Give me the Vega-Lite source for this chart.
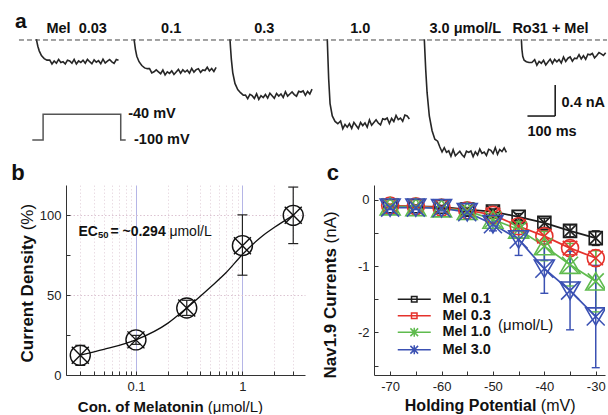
{
  "$schema": "https://vega.github.io/schema/vega-lite/v6.json",
  "padding": {"left": 11, "top": 0, "right": 0, "bottom": 0},
  "spacing": -2,
  "config": {
    "view": {"stroke": null},
    "font": "Liberation Sans",
    "axis": {"labelFont": "Liberation Sans", "titleFont": "Liberation Sans", "domainColor": "#333", "tickColor": "#333", "labelColor": "#222", "titleColor": "#111"},
    "legend": {"labelFont": "Liberation Sans", "titleFont": "Liberation Sans"},
    "title": {"font": "Liberation Sans"}
  },
  "datasets": {
    "traces": [
      {"tr":1,"t":135,"I":0.01},{"tr":1,"t":137,"I":-0.03},{"tr":1,"t":140,"I":-0.08},{"tr":1,"t":145,"I":-0.14},{"tr":1,"t":153,"I":-0.2},{"tr":1,"t":163,"I":-0.24},{"tr":1,"t":173,"I":-0.26},
      {"tr":1,"t":183,"I":-0.26},{"tr":1,"t":191,"I":-0.31},{"tr":1,"t":199,"I":-0.27},{"tr":1,"t":207,"I":-0.3},{"tr":1,"t":215,"I":-0.25},{"tr":1,"t":223,"I":-0.29},{"tr":1,"t":231,"I":-0.28},{"tr":1,"t":239,"I":-0.31},{"tr":1,"t":247,"I":-0.26},{"tr":1,"t":255,"I":-0.27},{"tr":1,"t":263,"I":-0.3},{"tr":1,"t":271,"I":-0.25},{"tr":1,"t":279,"I":-0.31},{"tr":1,"t":287,"I":-0.27},{"tr":1,"t":295,"I":-0.29},{"tr":1,"t":303,"I":-0.26},{"tr":1,"t":311,"I":-0.3},{"tr":1,"t":319,"I":-0.25},{"tr":1,"t":327,"I":-0.28},{"tr":1,"t":335,"I":-0.307},{"tr":1,"t":343,"I":-0.257},{"tr":1,"t":351,"I":-0.287},{"tr":1,"t":359,"I":-0.267},{"tr":1,"t":367,"I":-0.307},{"tr":1,"t":375,"I":-0.247},{"tr":1,"t":383,"I":-0.297},{"tr":1,"t":391,"I":-0.272},{"tr":1,"t":399,"I":-0.252},{"tr":1,"t":407,"I":-0.282},{"tr":1,"t":415,"I":-0.302},{"tr":1,"t":423,"I":-0.252},{"tr":1,"t":431,"I":-0.262},
      {"tr":2,"t":487,"I":0.01},{"tr":2,"t":489,"I":-0.04},{"tr":2,"t":492,"I":-0.12},{"tr":2,"t":497,"I":-0.21},{"tr":2,"t":505,"I":-0.28},{"tr":2,"t":515,"I":-0.33},{"tr":2,"t":525,"I":-0.36},
      {"tr":2,"t":535,"I":-0.37},{"tr":2,"t":543,"I":-0.37},{"tr":2,"t":551,"I":-0.425},{"tr":2,"t":559,"I":-0.41},{"tr":2,"t":567,"I":-0.385},{"tr":2,"t":575,"I":-0.41},{"tr":2,"t":583,"I":-0.435},{"tr":2,"t":591,"I":-0.388},{"tr":2,"t":599,"I":-0.45},{"tr":2,"t":607,"I":-0.41},{"tr":2,"t":615,"I":-0.43},{"tr":2,"t":623,"I":-0.398},{"tr":2,"t":631,"I":-0.445},{"tr":2,"t":639,"I":-0.413},{"tr":2,"t":647,"I":-0.38},{"tr":2,"t":655,"I":-0.428},{"tr":2,"t":663,"I":-0.385},{"tr":2,"t":671,"I":-0.413},{"tr":2,"t":679,"I":-0.39},{"tr":2,"t":687,"I":-0.428},{"tr":2,"t":695,"I":-0.366},{"tr":2,"t":703,"I":-0.414},{"tr":2,"t":711,"I":-0.382},{"tr":2,"t":719,"I":-0.37},{"tr":2,"t":727,"I":-0.418},{"tr":2,"t":735,"I":-0.386},{"tr":2,"t":743,"I":-0.394},{"tr":2,"t":751,"I":-0.352},{"tr":2,"t":759,"I":-0.4},{"tr":2,"t":767,"I":-0.368},{"tr":2,"t":775,"I":-0.406},{"tr":2,"t":783,"I":-0.354},
      {"tr":3,"t":833,"I":0.01},{"tr":3,"t":835,"I":-0.1},{"tr":3,"t":838,"I":-0.25},{"tr":3,"t":843,"I":-0.42},{"tr":3,"t":851,"I":-0.56},{"tr":3,"t":861,"I":-0.64},{"tr":3,"t":871,"I":-0.68},
      {"tr":3,"t":881,"I":-0.712},{"tr":3,"t":889,"I":-0.71},{"tr":3,"t":897,"I":-0.756},{"tr":3,"t":905,"I":-0.701},{"tr":3,"t":913,"I":-0.718},{"tr":3,"t":921,"I":-0.754},{"tr":3,"t":929,"I":-0.694},{"tr":3,"t":937,"I":-0.766},{"tr":3,"t":945,"I":-0.718},{"tr":3,"t":953,"I":-0.742},{"tr":3,"t":961,"I":-0.703},{"tr":3,"t":969,"I":-0.749},{"tr":3,"t":977,"I":-0.686},{"tr":3,"t":985,"I":-0.719},{"tr":3,"t":993,"I":-0.752},{"tr":3,"t":1001,"I":-0.69},{"tr":3,"t":1009,"I":-0.723},{"tr":3,"t":1017,"I":-0.696},{"tr":3,"t":1025,"I":-0.741},{"tr":3,"t":1033,"I":-0.667},{"tr":3,"t":1041,"I":-0.724},{"tr":3,"t":1049,"I":-0.697},{"tr":3,"t":1057,"I":-0.671},{"tr":3,"t":1065,"I":-0.704},{"tr":3,"t":1073,"I":-0.725},{"tr":3,"t":1081,"I":-0.662},{"tr":3,"t":1089,"I":-0.672},{"tr":3,"t":1097,"I":-0.657},{"tr":3,"t":1105,"I":-0.714},{"tr":3,"t":1113,"I":-0.664},{"tr":3,"t":1121,"I":-0.697},{"tr":3,"t":1129,"I":-0.634},
      {"tr":4,"t":1184,"I":0.01},{"tr":4,"t":1186,"I":-0.2},{"tr":4,"t":1189,"I":-0.5},{"tr":4,"t":1194,"I":-0.82},{"tr":4,"t":1202,"I":-0.98},{"tr":4,"t":1212,"I":-1.05},{"tr":4,"t":1222,"I":-1.08},
      {"tr":4,"t":1232,"I":-1.045},{"tr":4,"t":1240,"I":-1.145},{"tr":4,"t":1248,"I":-1.09},{"tr":4,"t":1256,"I":-1.125},{"tr":4,"t":1264,"I":-1.08},{"tr":4,"t":1272,"I":-1.14},{"tr":4,"t":1280,"I":-1.063},{"tr":4,"t":1288,"I":-1.103},{"tr":4,"t":1296,"I":-1.143},{"tr":4,"t":1304,"I":-1.064},{"tr":4,"t":1312,"I":-1.104},{"tr":4,"t":1320,"I":-1.069},{"tr":4,"t":1328,"I":-1.124},{"tr":4,"t":1336,"I":-1.03},{"tr":4,"t":1344,"I":-1.1},{"tr":4,"t":1352,"I":-1.065},{"tr":4,"t":1360,"I":-1.03},{"tr":4,"t":1368,"I":-1.071},{"tr":4,"t":1376,"I":-1.096},{"tr":4,"t":1384,"I":-1.016},{"tr":4,"t":1392,"I":-1.026},{"tr":4,"t":1400,"I":-1.007},{"tr":4,"t":1408,"I":-1.077},{"tr":4,"t":1416,"I":-1.012},{"tr":4,"t":1424,"I":-1.052},{"tr":4,"t":1432,"I":-0.973},{"tr":4,"t":1440,"I":-1.028},{"tr":4,"t":1448,"I":-1.008},{"tr":4,"t":1456,"I":-1.048},{"tr":4,"t":1464,"I":-0.969},{"tr":4,"t":1472,"I":-0.979},{"tr":4,"t":1480,"I":-1.02},
      {"tr":5,"t":1534,"I":0.01},{"tr":5,"t":1536,"I":-0.15},{"tr":5,"t":1539,"I":-0.38},{"tr":5,"t":1544,"I":-0.68},{"tr":5,"t":1552,"I":-0.98},{"tr":5,"t":1562,"I":-1.17},{"tr":5,"t":1572,"I":-1.28},
      {"tr":5,"t":1582,"I":-1.305},{"tr":5,"t":1590,"I":-1.38},{"tr":5,"t":1598,"I":-1.445},{"tr":5,"t":1606,"I":-1.39},{"tr":5,"t":1614,"I":-1.45},{"tr":5,"t":1622,"I":-1.43},{"tr":5,"t":1630,"I":-1.5},{"tr":5,"t":1638,"I":-1.415},{"tr":5,"t":1646,"I":-1.495},{"tr":5,"t":1654,"I":-1.465},{"tr":5,"t":1662,"I":-1.435},{"tr":5,"t":1670,"I":-1.48},{"tr":5,"t":1678,"I":-1.51},{"tr":5,"t":1686,"I":-1.435},{"tr":5,"t":1694,"I":-1.45},{"tr":5,"t":1702,"I":-1.432},{"tr":5,"t":1710,"I":-1.505},{"tr":5,"t":1718,"I":-1.442},{"tr":5,"t":1726,"I":-1.484},{"tr":5,"t":1734,"I":-1.407},{"tr":5,"t":1742,"I":-1.464},{"tr":5,"t":1750,"I":-1.446},{"tr":5,"t":1758,"I":-1.489},{"tr":5,"t":1766,"I":-1.411},{"tr":5,"t":1774,"I":-1.424},{"tr":5,"t":1782,"I":-1.466},{"tr":5,"t":1790,"I":-1.388},{"tr":5,"t":1798,"I":-1.476},{"tr":5,"t":1806,"I":-1.413},{"tr":5,"t":1814,"I":-1.44},{"tr":5,"t":1822,"I":-1.393},{"tr":5,"t":1830,"I":-1.45},
      {"tr":6,"t":1884,"I":0.01},{"tr":6,"t":1886,"I":-0.12},{"tr":6,"t":1889,"I":-0.21},{"tr":6,"t":1894,"I":-0.26},{"tr":6,"t":1902,"I":-0.28},{"tr":6,"t":1912,"I":-0.29},{"tr":6,"t":1922,"I":-0.29},
      {"tr":6,"t":1932,"I":-0.254},{"tr":6,"t":1940,"I":-0.326},{"tr":6,"t":1948,"I":-0.277},{"tr":6,"t":1956,"I":-0.3},{"tr":6,"t":1964,"I":-0.263},{"tr":6,"t":1972,"I":-0.322},{"tr":6,"t":1980,"I":-0.285},{"tr":6,"t":1988,"I":-0.247},{"tr":6,"t":1996,"I":-0.303},{"tr":6,"t":2004,"I":-0.25},{"tr":6,"t":2012,"I":-0.282},{"tr":6,"t":2020,"I":-0.253},{"tr":6,"t":2028,"I":-0.297},{"tr":6,"t":2036,"I":-0.22},{"tr":6,"t":2044,"I":-0.276},{"tr":6,"t":2052,"I":-0.235},{"tr":6,"t":2060,"I":-0.219},{"tr":6,"t":2068,"I":-0.274},{"tr":6,"t":2076,"I":-0.234},{"tr":6,"t":2084,"I":-0.241},{"tr":6,"t":2092,"I":-0.189},{"tr":6,"t":2100,"I":-0.245},{"tr":6,"t":2108,"I":-0.204},{"tr":6,"t":2116,"I":-0.248},{"tr":6,"t":2124,"I":-0.183},{"tr":6,"t":2132,"I":-0.191},{"tr":6,"t":2140,"I":-0.174},{"tr":6,"t":2148,"I":-0.23},{"tr":6,"t":2156,"I":-0.201},{"tr":6,"t":2164,"I":-0.161},{"tr":6,"t":2172,"I":-0.18},{"tr":6,"t":2180,"I":-0.2},{"tr":6,"t":2188,"I":-0.165}
    ],
    "proto": [
      {"i":0,"t":120,"mV":-100},{"i":1,"t":159,"mV":-100},{"i":2,"t":159,"mV":-40},{"i":3,"t":439,"mV":-40},{"i":4,"t":439,"mV":-100},{"i":5,"t":457,"mV":-100}
    ],
    "dose": [
      {"c":0.03,"m":12.3,"lo":6,"hi":18.6},
      {"c":0.1,"m":22,"lo":19.2,"hi":24.8},
      {"c":0.3,"m":42,"lo":37.3,"hi":46.8},
      {"c":1,"m":81,"lo":62.5,"hi":100.3},
      {"c":3,"m":100,"lo":82.3,"hi":117.7}
    ],
    "fit": [
      {"c":0.03,"f":12.5},{"c":0.05,"f":16},{"c":0.1,"f":22},{"c":0.2,"f":32.5},{"c":0.3,"f":42},{"c":0.5,"f":55},{"c":0.7,"f":64},{"c":1,"f":75.5},{"c":1.5,"f":86.5},{"c":2,"f":92.5},{"c":3,"f":100}
    ],
    "iv": [
      {"V":-70,"s":"Mel 0.1","m":-0.1,"lo":-0.12,"hi":-0.08},
      {"V":-65,"s":"Mel 0.1","m":-0.1,"lo":-0.12,"hi":-0.08},
      {"V":-60,"s":"Mel 0.1","m":-0.11,"lo":-0.13,"hi":-0.09},
      {"V":-55,"s":"Mel 0.1","m":-0.15,"lo":-0.18,"hi":-0.12},
      {"V":-50,"s":"Mel 0.1","m":-0.18,"lo":-0.22,"hi":-0.14},
      {"V":-45,"s":"Mel 0.1","m":-0.26,"lo":-0.31,"hi":-0.21},
      {"V":-40,"s":"Mel 0.1","m":-0.35,"lo":-0.42,"hi":-0.28},
      {"V":-35,"s":"Mel 0.1","m":-0.47,"lo":-0.56,"hi":-0.38},
      {"V":-30,"s":"Mel 0.1","m":-0.58,"lo":-0.69,"hi":-0.47},
      {"V":-70,"s":"Mel 0.3","m":-0.09,"lo":-0.11,"hi":-0.07},
      {"V":-65,"s":"Mel 0.3","m":-0.1,"lo":-0.12,"hi":-0.08},
      {"V":-60,"s":"Mel 0.3","m":-0.12,"lo":-0.15,"hi":-0.09},
      {"V":-55,"s":"Mel 0.3","m":-0.16,"lo":-0.2,"hi":-0.12},
      {"V":-50,"s":"Mel 0.3","m":-0.23,"lo":-0.28,"hi":-0.18},
      {"V":-45,"s":"Mel 0.3","m":-0.4,"lo":-0.47,"hi":-0.33},
      {"V":-40,"s":"Mel 0.3","m":-0.55,"lo":-0.63,"hi":-0.47},
      {"V":-35,"s":"Mel 0.3","m":-0.73,"lo":-0.83,"hi":-0.63},
      {"V":-30,"s":"Mel 0.3","m":-0.88,"lo":-1.0,"hi":-0.76},
      {"V":-70,"s":"Mel 1.0","m":-0.1,"lo":-0.13,"hi":-0.07},
      {"V":-65,"s":"Mel 1.0","m":-0.11,"lo":-0.14,"hi":-0.08},
      {"V":-60,"s":"Mel 1.0","m":-0.13,"lo":-0.16,"hi":-0.1},
      {"V":-55,"s":"Mel 1.0","m":-0.17,"lo":-0.22,"hi":-0.12},
      {"V":-50,"s":"Mel 1.0","m":-0.3,"lo":-0.38,"hi":-0.22},
      {"V":-45,"s":"Mel 1.0","m":-0.45,"lo":-0.57,"hi":-0.33},
      {"V":-40,"s":"Mel 1.0","m":-0.7,"lo":-0.92,"hi":-0.48},
      {"V":-35,"s":"Mel 1.0","m":-0.98,"lo":-1.3,"hi":-0.66},
      {"V":-30,"s":"Mel 1.0","m":-1.23,"lo":-1.69,"hi":-0.77},
      {"V":-70,"s":"Mel 3.0","m":-0.12,"lo":-0.15,"hi":-0.09},
      {"V":-65,"s":"Mel 3.0","m":-0.12,"lo":-0.15,"hi":-0.09},
      {"V":-60,"s":"Mel 3.0","m":-0.13,"lo":-0.17,"hi":-0.09},
      {"V":-55,"s":"Mel 3.0","m":-0.19,"lo":-0.25,"hi":-0.13},
      {"V":-50,"s":"Mel 3.0","m":-0.37,"lo":-0.47,"hi":-0.27},
      {"V":-45,"s":"Mel 3.0","m":-0.6,"lo":-0.84,"hi":-0.36},
      {"V":-40,"s":"Mel 3.0","m":-1.04,"lo":-1.41,"hi":-0.67},
      {"V":-35,"s":"Mel 3.0","m":-1.37,"lo":-1.96,"hi":-0.78},
      {"V":-30,"s":"Mel 3.0","m":-1.76,"lo":-2.53,"hi":-0.99}
    ]
  },
  "vconcat": [
    {
      "width": 541,
      "height": 163,
      "layer": [
        {
          "data": {"values": [{}]},
          "layer": [
            {
              "data": {"name": "traces"},
              "mark": {"type": "line", "color": "#262626", "strokeWidth": 1.6},
              "encoding": {
                "x": {"field": "t", "type": "quantitative", "scale": {"domain": [241.6, 2192.9], "nice": false, "zero": false}, "axis": null},
                "y": {"field": "I", "type": "quantitative", "scale": {"domain": [-1.587, 0.516], "nice": false, "zero": false}, "axis": null},
                "detail": {"field": "tr"}
              }
            },
            {"mark": {"type": "rule", "strokeDash": [5, 3], "color": "#444", "strokeWidth": 1}, "encoding": {"x": {"datum": 72}, "x2": {"datum": 2192.9}, "y": {"datum": 0}}},
            {"mark": {"type": "rule", "color": "#111", "strokeWidth": 1.5}, "encoding": {"x": {"datum": 1906}, "x2": {"datum": 2006}, "y": {"datum": -0.981}}},
            {"mark": {"type": "rule", "color": "#111", "strokeWidth": 1.5}, "encoding": {"x": {"datum": 2006}, "y": {"datum": -0.981}, "y2": {"datum": -0.581}}},
            {"mark": {"type": "text", "text": "a", "fontSize": 21, "fontWeight": "bold", "align": "center", "baseline": "alphabetic", "color": "#111"}, "encoding": {"x": {"datum": 79}, "y": {"datum": 0.155}}},
            {"mark": {"type": "text", "text": "Mel \u00a00.03", "fontSize": 14.5, "fontWeight": "bold", "align": "center", "baseline": "alphabetic", "color": "#111"}, "encoding": {"x": {"datum": 280}, "y": {"datum": 0.086}}},
            {"mark": {"type": "text", "text": "0.1", "fontSize": 14.5, "fontWeight": "bold", "align": "center", "baseline": "alphabetic", "color": "#111"}, "encoding": {"x": {"datum": 621}, "y": {"datum": 0.086}}},
            {"mark": {"type": "text", "text": "0.3", "fontSize": 14.5, "fontWeight": "bold", "align": "center", "baseline": "alphabetic", "color": "#111"}, "encoding": {"x": {"datum": 957}, "y": {"datum": 0.086}}},
            {"mark": {"type": "text", "text": "1.0", "fontSize": 14.5, "fontWeight": "bold", "align": "center", "baseline": "alphabetic", "color": "#111"}, "encoding": {"x": {"datum": 1303}, "y": {"datum": 0.086}}},
            {"mark": {"type": "text", "text": "3.0 μmol/L", "fontSize": 14.5, "fontWeight": "bold", "align": "center", "baseline": "alphabetic", "color": "#111"}, "encoding": {"x": {"datum": 1682}, "y": {"datum": 0.086}}},
            {"mark": {"type": "text", "text": "Ro31 + Mel", "fontSize": 14.5, "fontWeight": "bold", "align": "center", "baseline": "alphabetic", "color": "#111"}, "encoding": {"x": {"datum": 1989}, "y": {"datum": 0.086}}},
            {"mark": {"type": "text", "text": "0.4 nA", "fontSize": 14.5, "fontWeight": "bold", "align": "left", "baseline": "middle", "color": "#111"}, "encoding": {"x": {"datum": 2029}, "y": {"datum": -0.813}}},
            {"mark": {"type": "text", "text": "100 ms", "fontSize": 14.5, "fontWeight": "bold", "align": "left", "baseline": "middle", "color": "#111"}, "encoding": {"x": {"datum": 1906}, "y": {"datum": -1.187}}}
          ]
        },
        {
          "data": {"values": [{}]},
          "layer": [
            {
              "data": {"name": "proto"},
              "mark": {"type": "line", "color": "#555", "strokeWidth": 1.5},
              "encoding": {
                "x": {"field": "t", "type": "quantitative", "scale": {"domain": [241.6, 2192.9], "nice": false, "zero": false}, "axis": null},
                "y": {"field": "mV", "type": "quantitative", "scale": {"domain": [-153.7, 227], "nice": false, "zero": false}, "axis": null},
                "order": {"field": "i"}
              }
            },
            {"mark": {"type": "text", "text": "-40 mV", "fontSize": 14.5, "fontWeight": "bold", "align": "left", "baseline": "middle", "color": "#111"}, "encoding": {"x": {"datum": 466}, "y": {"datum": -40}}},
            {"mark": {"type": "text", "text": "-100 mV", "fontSize": 14.5, "fontWeight": "bold", "align": "left", "baseline": "middle", "color": "#111"}, "encoding": {"x": {"datum": 487}, "y": {"datum": -100}}}
          ]
        }
      ],
      "resolve": {"scale": {"y": "independent"}}
    },
    {
      "spacing": 14,
      "hconcat": [
        {
          "width": 239,
          "height": 190,
          "title": {"text": "b", "anchor": "start", "frame": "bounds", "fontSize": 22, "fontWeight": "bold", "color": "#111", "offset": 0, "dx": -7},
          "layer": [
            {
              "data": {"name": "dose"},
              "mark": {"type": "rule", "color": "#222", "strokeWidth": 1.2},
              "encoding": {
                "x": {"field": "c", "type": "quantitative", "scale": {"type": "log", "domain": [0.02203, 3.87], "nice": false},
                  "axis": {"orient": "bottom", "values": [0.03,0.04,0.05,0.06,0.07,0.08,0.09,0.1,0.2,0.3,0.4,0.5,0.6,0.7,0.8,0.9,1,2,3],
                    "labelExpr": "datum.value === 0.1 ? '0.1' : (datum.value === 1 ? '1' : '')", "labelFontSize": 13, "labelPadding": 9, "labelOverlap": false, "labelFlush": false,
                    "tickSize": -4, "grid": true,
                    "gridColor": {"condition": {"test": "datum.value === 0.1 || datum.value === 1", "value": "#b5b5e6"}, "value": "#eadde4"},
                    "gridDash": {"condition": {"test": "datum.value === 0.1 || datum.value === 1", "value": []}, "value": [1.5, 2]},
                    "title": "Con. of Melatonin", "titleFontSize": 15, "titleFontWeight": "bold", "titleAlign": "left", "titleBaseline": "middle", "titleX": 11.3, "titleY": 31}},
                "y": {"field": "lo", "type": "quantitative", "scale": {"domain": [0, 119], "nice": false, "zero": false},
                  "axis": {"orient": "left", "values": [0, 25, 50, 75, 100], "labelExpr": "datum.value % 50 === 0 ? datum.label : ''", "labelFontSize": 13, "labelPadding": 9,
                    "tickSize": -4, "grid": true, "gridColor": "#dcc4d2", "gridDash": [1.5, 2],
                    "gridOpacity": {"condition": {"test": "datum.value === 50 || datum.value === 100", "value": 1}, "value": 0},
                    "title": "Current Density", "titleFontSize": 17, "titleFontWeight": "bold", "titleAngle": 270, "titleAlign": "left", "titleBaseline": "middle", "titleX": -38.7, "titleY": 177}},
                "y2": {"field": "hi"}
              }
            },
            {
              "data": {"name": "fit"},
              "mark": {"type": "line", "interpolate": "monotone", "color": "#111", "strokeWidth": 1.3},
              "encoding": {
                "x": {"field": "c", "type": "quantitative", "axis": {"orient": "bottom", "labels": false, "ticks": false, "domain": false, "grid": false, "title": "(μmol/L)", "titleFontSize": 15, "titleFontWeight": "normal", "titleAlign": "left", "titleBaseline": "middle", "titleX": 141.3, "titleY": 31}},
                "y": {"field": "f", "type": "quantitative", "axis": {"orient": "left", "labels": false, "ticks": false, "domain": false, "grid": false, "title": "(%)", "titleFontSize": 17, "titleFontWeight": "normal", "titleAngle": 270, "titleAlign": "left", "titleBaseline": "middle", "titleX": -38.7, "titleY": 44.8}}
              }
            },
            {
              "data": {"name": "dose"},
              "mark": {"type": "point", "shape": "M-1,0L1,0", "size": 100, "filled": false, "color": "#222", "strokeWidth": 1.2, "opacity": 1},
              "encoding": {"x": {"field": "c", "type": "quantitative", "axis": null}, "y": {"field": "lo", "type": "quantitative", "axis": null}}
            },
            {
              "data": {"name": "dose"},
              "mark": {"type": "point", "shape": "M-1,0L1,0", "size": 100, "filled": false, "color": "#222", "strokeWidth": 1.2, "opacity": 1},
              "encoding": {"x": {"field": "c", "type": "quantitative", "axis": null}, "y": {"field": "hi", "type": "quantitative", "axis": null}}
            },
            {
              "data": {"name": "dose"},
              "mark": {"type": "point", "shape": "circle", "size": 400, "filled": false, "color": "#111", "strokeWidth": 1.4, "opacity": 1},
              "encoding": {"x": {"field": "c", "type": "quantitative", "axis": null}, "y": {"field": "m", "type": "quantitative", "axis": null}}
            },
            {
              "data": {"name": "dose"},
              "mark": {"type": "point", "shape": "M-1,-1L1,1M-1,1L1,-1", "size": 289, "filled": false, "color": "#111", "strokeWidth": 1.4, "opacity": 1},
              "encoding": {"x": {"field": "c", "type": "quantitative", "axis": null}, "y": {"field": "m", "type": "quantitative", "axis": null}}
            },
            {
              "data": {"values": [{}]},
              "mark": {"type": "text", "text": "EC", "fontSize": 14, "fontWeight": "bold", "align": "left", "baseline": "middle", "color": "#111"},
              "encoding": {"x": {"datum": 0.0288, "axis": null}, "y": {"datum": 89.5, "axis": null}}
            },
            {
              "data": {"values": [{}]},
              "mark": {"type": "text", "text": "50", "fontSize": 9.5, "fontWeight": "bold", "align": "left", "baseline": "middle", "color": "#111", "dx": 19.5, "dy": 3},
              "encoding": {"x": {"datum": 0.0288, "axis": null}, "y": {"datum": 89.5, "axis": null}}
            },
            {
              "data": {"values": [{}]},
              "mark": {"type": "text", "text": "= ~0.294", "fontSize": 14, "fontWeight": "bold", "align": "left", "baseline": "middle", "color": "#111", "dx": 32},
              "encoding": {"x": {"datum": 0.0288, "axis": null}, "y": {"datum": 89.5, "axis": null}}
            },
            {
              "data": {"values": [{}]},
              "mark": {"type": "text", "text": "μmol/L", "fontSize": 14, "fontWeight": "normal", "align": "left", "baseline": "middle", "color": "#111", "dx": 91},
              "encoding": {"x": {"datum": 0.0288, "axis": null}, "y": {"datum": 89.5, "axis": null}}
            }
          ],
          "resolve": {"axis": {"x": "independent", "y": "independent"}}
        },
        {
          "width": 231,
          "height": 190,
          "title": {"text": "c", "anchor": "start", "frame": "bounds", "fontSize": 22, "fontWeight": "bold", "color": "#111", "offset": 0, "dx": 5},
          "data": {"name": "iv"},
          "layer": [
            {
              "mark": {"type": "rule", "strokeWidth": 1.5, "clip": true},
              "encoding": {
                "x": {"field": "V", "type": "quantitative", "scale": {"domain": [-73.14, -28.2], "nice": false, "zero": false},
                  "axis": {"orient": "bottom", "values": [-70,-65,-60,-55,-50,-45,-40,-35,-30], "labelExpr": "datum.value % 10 === 0 ? '' + datum.value : ''", "labelFontSize": 13, "labelPadding": 9, "labelOverlap": false, "labelFlush": false,
                    "tickSize": -4, "grid": false,
                    "title": "Holding Potential", "titleFontSize": 16, "titleFontWeight": "bold", "titleAlign": "left", "titleBaseline": "middle", "titleX": 30.3, "titleY": 30}},
                "y": {"field": "lo", "type": "quantitative", "scale": {"domain": [-2.64, 0.22], "nice": false, "zero": false},
                  "axis": {"orient": "left", "values": [0, -0.5, -1, -1.5, -2, -2.5], "labelExpr": "datum.value % 1 === 0 ? '' + datum.value : ''", "labelFontSize": 13, "labelPadding": 9,
                    "tickSize": -4, "grid": false,
                    "title": "Nav1.9 Currents", "titleFontSize": 17, "titleFontWeight": "bold", "titleAngle": 270, "titleAlign": "left", "titleBaseline": "middle", "titleX": -43.2, "titleY": 193}},
                "y2": {"field": "hi"},
                "color": {"field": "s", "type": "nominal",
                  "scale": {"domain": ["Mel 0.1", "Mel 0.3", "Mel 1.0", "Mel 3.0"], "range": ["#1e1e1e", "#e5322c", "#5fbb4e", "#3b51b3"]},
                  "legend": {"orient": "none", "legendX": 341, "legendY": 292, "title": "(μmol/L)", "titleOrient": "right", "titleAnchor": "middle", "titleBaseline": "middle",
                    "titleFontSize": 15, "titleFontWeight": "normal", "titleColor": "#111", "titlePadding": 7,
                    "labelFontSize": 14.5, "labelFontWeight": "bold", "labelColor": "#111", "labelOffset": 21,
                    "symbolSize": 121, "symbolStrokeWidth": 1.5, "symbolFillColor": "transparent",
                    "symbolType": "M-3,0L3,0M-0.5,-0.5L0.5,-0.5L0.5,0.5L-0.5,0.5Z", "rowPadding": 1.5, "padding": 0,
                    "encode": {"symbols": {"update": {"shape": {"signal": "datum.value === 'Mel 1.0' || datum.value === 'Mel 3.0' ? 'M-3,0L3,0M-0.7,-0.7L0.7,0.7M-0.7,0.7L0.7,-0.7M0,-0.8L0,0.8' : 'M-3,0L3,0M-0.5,-0.5L0.5,-0.5L0.5,0.5L-0.5,0.5Z'"}}}}}}
              }
            },
            {
              "mark": {"type": "line", "strokeWidth": 1.7, "clip": true},
              "encoding": {
                "x": {"field": "V", "type": "quantitative", "axis": {"orient": "bottom", "labels": false, "ticks": false, "domain": false, "grid": false, "title": "(mV)", "titleFontSize": 16, "titleFontWeight": "normal", "titleAlign": "left", "titleBaseline": "middle", "titleX": 166.3, "titleY": 30}},
                "y": {"field": "m", "type": "quantitative", "axis": {"orient": "left", "labels": false, "ticks": false, "domain": false, "grid": false, "title": "(nA)", "titleFontSize": 17, "titleFontWeight": "normal", "titleAngle": 270, "titleAlign": "left", "titleBaseline": "middle", "titleX": -43.2, "titleY": 57.9}},
                "color": {"field": "s", "type": "nominal"}
              }
            },
            {
              "mark": {"type": "point", "shape": "M-1,0L1,0", "size": 64, "filled": false, "strokeWidth": 1.4, "opacity": 1, "clip": true},
              "encoding": {"x": {"field": "V", "type": "quantitative", "axis": null}, "y": {"field": "lo", "type": "quantitative", "axis": null}, "color": {"field": "s", "type": "nominal"}}
            },
            {
              "mark": {"type": "point", "shape": "M-1,0L1,0", "size": 64, "filled": false, "strokeWidth": 1.4, "opacity": 1, "clip": true},
              "encoding": {"x": {"field": "V", "type": "quantitative", "axis": null}, "y": {"field": "hi", "type": "quantitative", "axis": null}, "color": {"field": "s", "type": "nominal"}}
            },
            {
              "transform": [{"filter": "datum.s === 'Mel 0.1'"}],
              "layer": [
                {"mark": {"type": "point", "shape": "square", "size": 169, "filled": false, "strokeWidth": 1.6, "opacity": 1, "clip": true},
                 "encoding": {"x": {"field": "V", "type": "quantitative", "axis": null}, "y": {"field": "m", "type": "quantitative", "axis": null}, "color": {"field": "s", "type": "nominal"}}},
                {"mark": {"type": "point", "shape": "M-1,-1L1,1M-1,1L1,-1", "size": 169, "filled": false, "strokeWidth": 1.6, "opacity": 1, "clip": true},
                 "encoding": {"x": {"field": "V", "type": "quantitative", "axis": null}, "y": {"field": "m", "type": "quantitative", "axis": null}, "color": {"field": "s", "type": "nominal"}}}
              ]
            },
            {
              "transform": [{"filter": "datum.s === 'Mel 0.3'"}],
              "layer": [
                {"mark": {"type": "point", "shape": "circle", "size": 289, "filled": false, "strokeWidth": 1.6, "opacity": 1, "clip": true},
                 "encoding": {"x": {"field": "V", "type": "quantitative", "axis": null}, "y": {"field": "m", "type": "quantitative", "axis": null}, "color": {"field": "s", "type": "nominal"}}},
                {"mark": {"type": "point", "shape": "M-1,-1L1,1M-1,1L1,-1", "size": 209, "filled": false, "strokeWidth": 1.6, "opacity": 1, "clip": true},
                 "encoding": {"x": {"field": "V", "type": "quantitative", "axis": null}, "y": {"field": "m", "type": "quantitative", "axis": null}, "color": {"field": "s", "type": "nominal"}}}
              ]
            },
            {
              "transform": [{"filter": "datum.s === 'Mel 1.0'"}],
              "layer": [
                {"mark": {"type": "point", "shape": "triangle-up", "size": 400, "filled": false, "strokeWidth": 1.6, "opacity": 1, "clip": true},
                 "encoding": {"x": {"field": "V", "type": "quantitative", "axis": null}, "y": {"field": "m", "type": "quantitative", "axis": null}, "color": {"field": "s", "type": "nominal"}}},
                {"mark": {"type": "point", "shape": "M-1,-1L1,1M-1,1L1,-1", "size": 256, "filled": false, "strokeWidth": 1.6, "opacity": 1, "clip": true},
                 "encoding": {"x": {"field": "V", "type": "quantitative", "axis": null}, "y": {"field": "m", "type": "quantitative", "axis": null}, "color": {"field": "s", "type": "nominal"}}}
              ]
            },
            {
              "transform": [{"filter": "datum.s === 'Mel 3.0'"}],
              "layer": [
                {"mark": {"type": "point", "shape": "triangle-down", "size": 400, "filled": false, "strokeWidth": 1.6, "opacity": 1, "clip": true},
                 "encoding": {"x": {"field": "V", "type": "quantitative", "axis": null}, "y": {"field": "m", "type": "quantitative", "axis": null}, "color": {"field": "s", "type": "nominal"}}},
                {"mark": {"type": "point", "shape": "M-1,-1L1,1M-1,1L1,-1", "size": 324, "filled": false, "strokeWidth": 1.6, "opacity": 1, "clip": true},
                 "encoding": {"x": {"field": "V", "type": "quantitative", "axis": null}, "y": {"field": "m", "type": "quantitative", "axis": null}, "color": {"field": "s", "type": "nominal"}}}
              ]
            }
          ],
          "resolve": {"axis": {"x": "independent", "y": "independent"}}
        }
      ]
    }
  ]
}
